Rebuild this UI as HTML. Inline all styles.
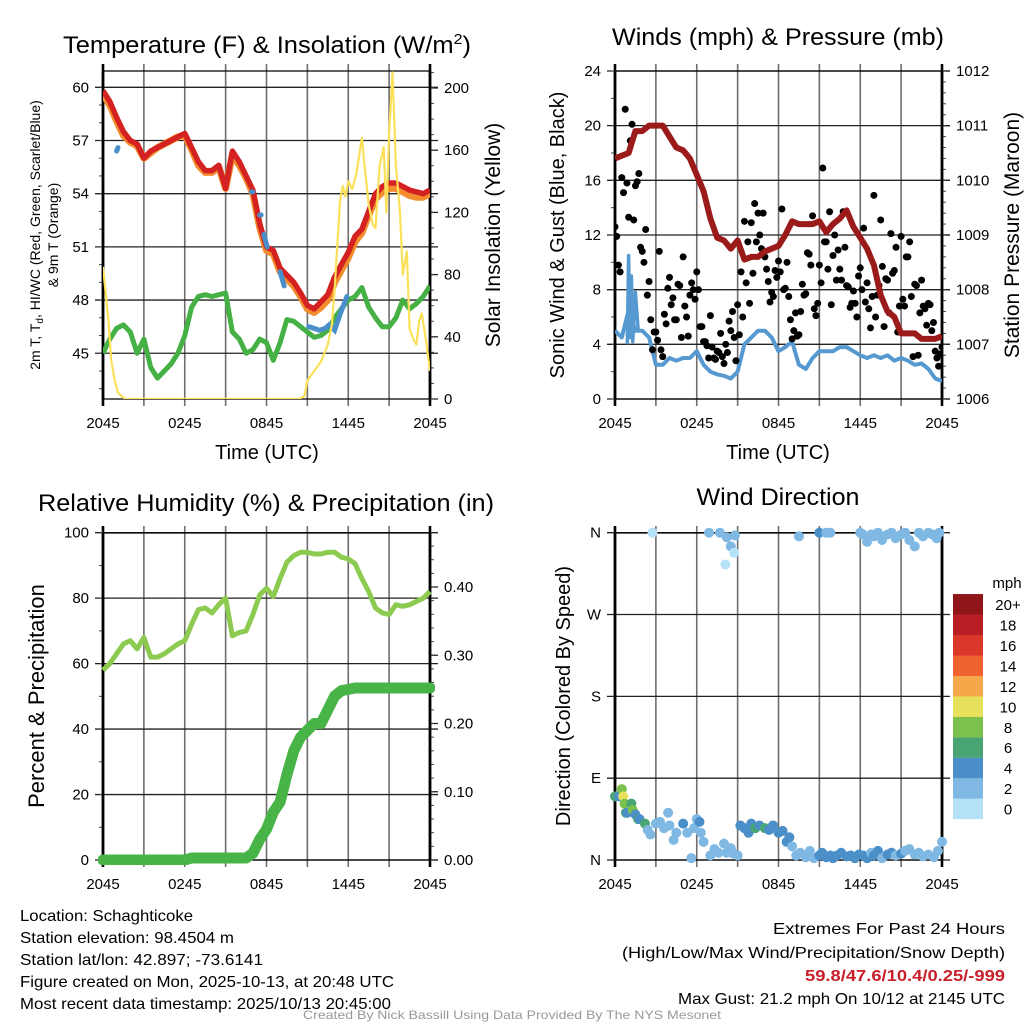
<!DOCTYPE html>
<html><head><meta charset="utf-8"><style>
html,body{margin:0;padding:0;background:#fff;}
svg{display:block;font-family:"Liberation Sans",sans-serif;}
</style></head><body>
<svg id="fig" width="1024" height="1024" viewBox="0 0 1024 1024">
<defs>
<clipPath id="c1"><rect x="103" y="71" width="327" height="328"/></clipPath>
<clipPath id="c2"><rect x="615" y="71" width="327" height="328"/></clipPath>
<clipPath id="c3"><rect x="98" y="533" width="337" height="332"/></clipPath>
<clipPath id="c4"><rect x="610" y="527" width="337" height="338"/></clipPath>
</defs>
<text x="267" y="53" font-size="24" text-anchor="middle" textLength="408" lengthAdjust="spacingAndGlyphs">Temperature (F) &amp; Insolation (W/m<tspan dy="-9" font-size="15">2</tspan><tspan dy="9">)</tspan></text>
<text x="778" y="45" font-size="24" text-anchor="middle" textLength="332" lengthAdjust="spacingAndGlyphs">Winds (mph) &amp; Pressure (mb)</text>
<text x="266" y="511" font-size="24" text-anchor="middle" textLength="456" lengthAdjust="spacingAndGlyphs">Relative Humidity (%) &amp; Precipitation (in)</text>
<text x="778" y="505" font-size="24" text-anchor="middle" textLength="163" lengthAdjust="spacingAndGlyphs">Wind Direction</text>

<g font-size="16">
<text x="20" y="921" textLength="173" lengthAdjust="spacingAndGlyphs">Location: Schaghticoke</text>
<text x="20" y="943" textLength="214" lengthAdjust="spacingAndGlyphs">Station elevation: 98.4504 m</text>
<text x="20" y="965" textLength="243" lengthAdjust="spacingAndGlyphs">Station lat/lon: 42.897; -73.6141</text>
<text x="20" y="987" textLength="374" lengthAdjust="spacingAndGlyphs">Figure created on Mon, 2025-10-13, at 20:48 UTC</text>
<text x="20" y="1009" textLength="371" lengthAdjust="spacingAndGlyphs">Most recent data timestamp: 2025/10/13 20:45:00</text>
</g>
<g font-size="16" text-anchor="end">
<text x="1005" y="934" textLength="232" lengthAdjust="spacingAndGlyphs">Extremes For Past 24 Hours</text>
<text x="1005" y="958" textLength="383" lengthAdjust="spacingAndGlyphs">(High/Low/Max Wind/Precipitation/Snow Depth)</text>
<text x="1005" y="981" fill="#c8202a" font-weight="bold" textLength="200" lengthAdjust="spacingAndGlyphs">59.8/47.6/10.4/0.25/-999</text>
<text x="1005" y="1004" textLength="327" lengthAdjust="spacingAndGlyphs">Max Gust: 21.2 mph On 10/12 at 2145 UTC</text>
</g>
<text x="512" y="1019" font-size="12" fill="#999" text-anchor="middle" textLength="418" lengthAdjust="spacingAndGlyphs">Created By Nick Bassill Using Data Provided By The NYS Mesonet</text>
</svg>
<script>
// ===== DATA =====
const xTickLabels = ["2045","0245","0845","1445","2045"];
const halfHours = [0,0.5,1,1.5,2,2.5,3,3.5,4,4.5,5,5.5,6,6.5,7,7.5,8,8.5,9,9.5,10,10.5,11,11.5,12,12.5,13,13.5,14,14.5,15,15.5,16,16.5,17,17.5,18,18.5,19,19.5,20,20.5,21,21.5,22,22.5,23,23.5,24];
const tempRed = [59.8,59.2,58.3,57.5,57.0,56.8,56.0,56.4,56.6,56.8,57.0,57.2,57.4,56.6,55.8,55.3,55.3,55.6,54.3,56.4,55.8,55.0,54.2,52.3,51.0,50.8,49.8,49.4,49.0,48.4,47.7,47.5,47.9,48.3,49.3,50.0,50.7,51.6,52.0,53.0,54.0,54.4,54.6,54.6,54.4,54.2,54.1,54.0,54.2];
const temp9mOrange = [59.6,59.0,58.1,57.3,56.9,56.7,56.0,56.3,56.6,56.8,57.0,57.2,57.3,56.5,55.6,55.2,55.2,55.5,54.3,56.2,55.6,54.9,54.0,52.1,50.8,50.6,49.6,49.2,48.8,48.2,47.5,47.3,47.6,48.0,49.0,49.7,50.4,51.3,51.8,52.8,53.7,54.1,54.3,54.3,54.1,53.9,53.8,53.8,54.0];
const dewGreen = [45.0,45.8,46.4,46.6,46.2,45.0,45.8,44.2,43.6,44.0,44.4,45.0,46.0,47.6,48.2,48.3,48.2,48.3,48.4,46.2,45.8,45.0,45.2,45.8,45.6,44.6,45.6,46.9,46.8,46.5,46.2,45.9,46.0,46.3,47.0,47.5,48.0,48.2,48.7,47.6,47.0,46.5,46.5,47.0,48.0,47.5,47.8,48.2,48.8];
const wcBlueHours = [[1.0,1.1],[10.9,11.0],[11.5,11.6],[11.8,12.05],[13.0,13.3],[15.1,15.5,15.9,16.3,16.6,17.0,17.4,17.9]];
const wcBlueVals = [[56.4,56.6],[54.1,54.1],[52.8,52.8],[51.7,51.0],[49.6,48.8],[46.5,46.4,46.3,46.4,46.6,46.3,47.2,48.2]];
const solarHours = [0,0.2,0.4,0.6,0.85,1.1,1.6,2,14,14.4,14.8,15,15.5,16,16.5,16.8,17,17.2,17.4,17.6,17.8,18,18.3,18.6,19,19.2,19.5,19.8,20,20.3,20.6,20.8,21,21.25,21.5,21.8,22,22.3,22.5,22.8,23,23.2,23.4,23.7,24];
const solarVals = [85,68,50,25,12,4,0,0,0,0,2,12,18,24,35,48,70,100,128,137,130,140,135,145,168,150,125,112,110,150,162,120,170,210,150,120,80,95,45,38,35,50,55,38,18];
const windHours = halfHours;
const windSust = [5,4.5,6.5,5,5,4.5,2.5,2.5,3,2.8,3,3,3.5,2.5,2,1.8,1.7,1.5,2,4,4.5,5,5,4.5,3.5,3.8,4.2,2.5,2.2,3,3.5,3.5,3.5,3.8,3.8,3.5,3.2,3,3.2,3,3.2,2.8,3,2.8,2.5,2.6,2.2,1.5,1.3];
const windSpikeHours = [0.9,1.0,1.1,1.2,1.3,1.5,1.7];
const windSpikeVals = [4.0,10.5,4.5,9.0,4.2,7.8,5.0];
const pressure = [1010.4,1010.45,1010.5,1010.9,1010.9,1011.0,1011.0,1011.0,1010.8,1010.6,1010.55,1010.4,1010.1,1009.8,1009.3,1008.95,1008.9,1008.75,1008.9,1008.55,1008.6,1008.6,1008.7,1008.75,1008.8,1009.0,1009.25,1009.2,1009.2,1009.2,1009.25,1009.05,1009.2,1009.3,1009.45,1009.15,1008.95,1008.75,1008.45,1007.9,1007.6,1007.5,1007.2,1007.2,1007.2,1007.1,1007.1,1007.1,1007.15];
const gustA = [12.6,9.8,16.2,21.2,13.3,20.1,15.6,16.5,10.8,12.4,8.6,3.6, 4.9,10.8,3.1,5.5,8.9,7.4,5.8,8.3,10.4,6.0,7.6,8.0, 9.3,5.3,4.2,3.9,6.1,3.0,3.5,4.8,2.6,3.4,5.0,4.5, 6.9,9.3,13.0,11.5,12.9,14.3,13.6,11.0,10.4,8.6,7.8,9.4, 10.1,13.9,8.1,7.5,4.4,6.3,4.7,8.4,7.7,10.6,13.4,6.1, 9.8,16.9,11.5,13.7,10.5,8.7,9.5,13.7,8.3,6.7,7.9,6.0, 9.6,12.5,8.5,5.2,14.9,7.6,13.1,5.3,8.7,12.1,9.4,4.9, 11.9,6.8,10.4,7.5,8.4,3.2,8.7,6.6,7.0,5.0,3.5,2.4,3.8];
const gustB = [11.9,9.3,15.1,15.8,18.9,13.1,15.9,11.1,10.0,7.6,5.8,4.9, 4.3,3.6,6.2,8.1,6.9,5.8,8.4,4.5,6.8,4.6,8.5,7.3, 8.0,5.3,4.2,3.0,3.8,2.9,3.4,3.1,4.0,5.7,6.4,2.8, 4.7,6.0,8.5,7.0,9.2,11.5,12.0,13.6,9.5,7.1,7.5,8.9, 9.3,8.0,10.0,5.8,5.0,4.6,6.4,7.6,10.7,9.8,6.6,7.0, 8.5,11.5,9.5,6.9,12.0,10.9,8.7,11.1,8.2,7.0,7.0,9.0, 8.0,7.1,6.6,7.5,6.0,8.3,9.7,8.8,6.3,9.2,11.1,6.8, 7.3,10.4,11.5,3.1,8.3,6.3,6.8,5.4,6.9,5.6,3.0,3.3];
const rh = [58,60,63,66,67,64.5,68,62,62,63,64.5,66,67,72,76.5,77,75.5,78,80,68.5,69.5,70,75,81,83,80.5,86,91,93,94,94,93.5,93.5,94,94,92.5,92,90.5,86,82,77,75.5,75,78,77.5,78,79,80,82];
const precip = [0,0,0,0,0,0,0,0,0,0,0,0,0,0.003,0.003,0.003,0.003,0.003,0.003,0.003,0.003,0.003,0.01,0.03,0.045,0.07,0.085,0.125,0.16,0.18,0.19,0.2,0.2,0.22,0.24,0.248,0.25,0.252,0.252,0.252,0.252,0.252,0.252,0.252,0.252,0.252,0.252,0.252,0.252];
const dirHours = [0,0.3,0.5,0.6,0.7,0.8,0.9,1.2,1.3,1.5,1.7,1.8,2.2,2.4,2.6,3,3.3,3.6,3.9,4,4.3,4.5,5,5.3,5.6,5.8,6,6.2,6.3,6.5,7,7.3,7.6,8,8.2,8.5,8.7,9,2.75,6.9,7.7,8.2,8.1,8.5,8.8,8.75,9.2,9.5,9.8,10,10.3,10.6,11,11.3,11.6,12,12.3,12.6,12.8,13,13.3,13.6,14,14.3,14.6,15,15.2,15.5,15.8,16,16.3,16.6,17,17.3,17.6,17.9,18.2,18.5,18.8,19,19.3,19.6,20,20.3,20.6,21,21.3,21.6,22,22.3,22.6,23,23.4,23.7,24,13.5,15,15.5,15.8,18,18.2,18.5,18.8,19,19.3,19.6,20,20.3,20.6,21,21.3,21.6,22,22.3,22.6,23,23.3,23.6,23.8];
const dirDeg = [70,70,78,70,62,52,52,62,55,50,45,45,40,33,28,40,42,35,52,38,22,30,40,30,2,35,45,42,30,20,5,12,8,18,8,13,7,5,360,360,360,355,325,345,357,338,38,35,30,40,35,38,35,33,38,30,32,20,25,15,5,8,3,10,2,5,8,3,5,2,5,8,4,5,2,6,5,2,8,5,10,2,6,8,5,7,10,12,6,8,4,6,3,10,20,356,360,360,360,360,358,350,358,356,360,352,358,360,354,358,360,352,345,360,356,360,358,354,360];
const dirSpeed = [6,4,8,10,8,6,4,6,8,4,6,4,6,2,2,2,2,2,2,2,2,2,4,2,2,2,2,4,2,2,2,2,2,2,2,2,2,2,0,2,2,2,0,2,2,0,4,4,4,4,6,4,6,4,4,4,4,4,4,2,2,2,2,2,2,4,4,4,4,4,4,4,4,4,4,4,4,4,2,4,4,2,4,4,2,4,2,2,2,2,2,2,2,2,2,2,4,2,2,2,2,2,2,2,2,2,2,2,2,2,2,2,2,2,2,2,2,2,2];
const cbarLabels = ["0","2","4","6","8","10","12","14","16","18","20+"];
const cbarColors = ["#b5e2f8","#7fb9e3","#4a8fc7","#4aa574","#7bc14b","#e6e05a","#f6a74a","#ef6330","#dc372b","#ba1e25","#901518"];

// ===== HELPERS =====
const NS="http://www.w3.org/2000/svg";
const svg=document.getElementById('fig');
function mk(tag,attrs,parent){const e=document.createElementNS(NS,tag);for(const k in attrs)e.setAttribute(k,attrs[k]);(parent||svg).appendChild(e);return e;}
function linePath(xs,ys,fx,fy){let d="";for(let i=0;i<xs.length;i++){d+=(i?"L":"M")+fx(xs[i]).toFixed(1)+","+fy(ys[i]).toFixed(1);}return d;}

function frame(x0,x1,y0,y1,hGrid,fy,minorL,fyMinor,rightMajor,fyR,rightMinor,leftLabels,rightLabels,name){
  const g=mk('g',{});
  
  
  for(let h=0;h<=24;h+=3){
    const x=x0+h/24*(x1-x0);
    const l=mk('line',{x1:x,x2:x,y1:y0-7,y2:y1+7,stroke:(h%24==0)?'#000':'#6e6e6e','stroke-width':(h%24==0)?2.6:1.6},g);
    
    
  }
  hGrid.forEach(v=>{const y=fy(v);
    const l=mk('line',{x1:x0-8,x2:x1+8,y1:y,y2:y,stroke:'#222','stroke-width':1.3},g);
    
    });
  mk('line',{x1:x0,x2:x1,y1:y0,y2:y0,stroke:'#000','stroke-width':1.3},g);
  mk('line',{x1:x0,x2:x1,y1:y1,y2:y1,stroke:'#000','stroke-width':1.3},g);
  minorL.forEach(v=>{const y=fyMinor(v);mk('line',{x1:x0-4,x2:x0,y1:y,y2:y,stroke:'#444','stroke-width':1},g);});
  rightMajor.forEach(v=>{const y=fyR(v);mk('line',{x1:x1,x2:x1+8,y1:y,y2:y,stroke:'#222','stroke-width':1.3},g);});
  rightMinor.forEach(v=>{const y=fyR(v);mk('line',{x1:x1,x2:x1+4,y1:y,y2:y,stroke:'#444','stroke-width':1},g);});
  xTickLabels.forEach((t,i)=>{const x=x0+i*6/24*(x1-x0);
    const tx=mk('text',{x:x,y:y1+29,'font-size':15,'text-anchor':'middle'},g);tx.textContent=t;
    
    });
  leftLabels.forEach(([v,t])=>{const tx=mk('text',{x:x0-14,y:fy(v)+5,'font-size':15,'text-anchor':'end'},g);tx.textContent=t;
    
    });
  rightLabels.forEach(([v,t])=>{const tx=mk('text',{x:x1+14,y:fyR(v)+5,'font-size':15},g);tx.textContent=t;
    
    });
  mk('line',{x1:x0,x2:x0,y1:y0,y2:y1,stroke:'#000','stroke-width':2.6},g);
  mk('line',{x1:x1,x2:x1,y1:y0,y2:y1,stroke:'#000','stroke-width':2.6},g);
}
function rng(a,b,s){const r=[];for(let v=a;v<=b+1e-9;v+=s)r.push(+v.toFixed(4));return r;}
function label(x,y,t,size,rot,name){const tx=mk('text',{x:x,y:y,'font-size':size,'text-anchor':'middle',transform:rot?`rotate(-90 ${x} ${y})`:''});tx.textContent=t;
  
  return tx;}

// ===== PANEL 1: Temperature =====
const x1s=h=>103+h/24*327;
const yT=v=>87.3+(60-v)*17.73;
const yS=w=>399-w*1.555;
frame(103,430,71,399,[60,57,54,51,48,45],yT,rng(43,60,1),yT,[0,40,80,120,160,200],yS,rng(0,210,10),
 [[60,'60'],[57,'57'],[54,'54'],[51,'51'],[48,'48'],[45,'45']],[[0,'0'],[40,'40'],[80,'80'],[120,'120'],[160,'160'],[200,'200']],'temp');
const g1=mk('g',{'clip-path':'url(#c1)'});


let p=mk('path',{d:linePath(halfHours,temp9mOrange,x1s,yT),fill:'none',stroke:'#f28c2c','stroke-width':7,'stroke-linejoin':'round'},g1);


p=mk('path',{d:linePath(halfHours,tempRed,x1s,yT),fill:'none',stroke:'#d42222','stroke-width':5.5,'stroke-linejoin':'round'},g1);


p=mk('path',{d:linePath(halfHours,dewGreen,x1s,yT),fill:'none',stroke:'#45b043','stroke-width':5,'stroke-linejoin':'round'},g1);


wcBlueHours.forEach((hs,i)=>{const s=mk('path',{d:linePath(hs,wcBlueVals[i],x1s,yT),fill:'none',stroke:'#4a8fca','stroke-width':5,'stroke-linecap':'round'},g1);
  
  });
p=mk('path',{d:linePath(solarHours,solarVals,x1s,yS),fill:'none',stroke:'#fbe05a','stroke-width':2.2,'stroke-linejoin':'round'},g1);


label(267,459,'Time (UTC)',20,false,'temp-x-axis-title');
label(40,235,'2m T, T',14,true,'temp-y-axis-title').innerHTML='2m T, T<tspan font-size="10" dy="3">d</tspan><tspan dy="-3">, HI/WC (Red, Green, Scarlet/Blue)</tspan>';
label(58,235,'& 9m T (Orange)',14,true,'temp-y-axis-title-2');
label(500,235,'Solar Insolation (Yellow)',21,true,'solar-y-axis-title');

// ===== PANEL 2: Winds =====
const x2s=h=>615+h/24*327;
const yW=v=>399-v*13.667;
const yP=v=>399-(v-1006)*54.67;
frame(615,942,71,399,[0,4,8,12,16,20,24],yW,rng(0,24,2),yW,[1006,1007,1008,1009,1010,1011,1012],yP,rng(1006,1012,0.2),
 [[0,'0'],[4,'4'],[8,'8'],[12,'12'],[16,'16'],[20,'20'],[24,'24']],[[1006,'1006'],[1007,'1007'],[1008,'1008'],[1009,'1009'],[1010,'1010'],[1011,'1011'],[1012,'1012']],'wind');
const g2=mk('g',{'clip-path':'url(#c2)'});


p=mk('path',{d:linePath(windHours,windSust,x2s,yW),fill:'none',stroke:'#5599d0','stroke-width':4,'stroke-linejoin':'round'},g2);


p=mk('path',{d:linePath(windSpikeHours,windSpikeVals,x2s,yW),fill:'none',stroke:'#5599d0','stroke-width':3.5,'stroke-linejoin':'round'},g2);


gustA.forEach((v,i)=>{const c=mk('circle',{cx:x2s(i/4),cy:yW(v),r:3.5,fill:'#000'},g2);
  
  });
gustB.forEach((v,i)=>{const c=mk('circle',{cx:x2s(i/4+0.125),cy:yW(v),r:3.5,fill:'#000'},g2);
  
  });
p=mk('path',{d:linePath(halfHours,pressure,x2s,yP),fill:'none',stroke:'#9b1b1b','stroke-width':6,'stroke-linejoin':'round'},g2);


label(778,459,'Time (UTC)',20,false,'wind-x-axis-title');
label(564,235,'Sonic Wind & Gust (Blue, Black)',20,true,'wind-y-axis-title');
label(1019,235,'Station Pressure (Maroon)',21,true,'pressure-y-axis-title');

// ===== PANEL 3: RH & Precip =====
const x3s=h=>103+h/24*327;
const yR=v=>860-v*3.273;
const yPr=v=>860-v*682.5;
frame(103,430,533,860,[0,20,40,60,80,100],yR,rng(0,100,10),yR,[0,0.1,0.2,0.3,0.4],yPr,rng(0,0.47,0.02),
 [[0,'0'],[20,'20'],[40,'40'],[60,'60'],[80,'80'],[100,'100']],[[0,'0.00'],[0.1,'0.10'],[0.2,'0.20'],[0.3,'0.30'],[0.4,'0.40']],'rh');
const g3=mk('g',{'clip-path':'url(#c3)'});


p=mk('path',{d:linePath(halfHours,rh,x3s,yR),fill:'none',stroke:'#8ccb50','stroke-width':5,'stroke-linejoin':'round'},g3);


p=mk('path',{d:linePath(halfHours,precip,x3s,yPr),fill:'none',stroke:'#48b448','stroke-width':11,'stroke-linejoin':'round','stroke-linecap':'round'},g3);


label(44,696,'Percent & Precipitation',22,true,'rh-y-axis-title');

// ===== PANEL 4: Wind direction =====
const x4s=h=>615+h/24*327;
const yD=d=>860-d/360*327.3;
frame(615,942,533,860,[0,90,180,270,360],yD,[],yD,[],yD,[],
 [[0,'N'],[90,'E'],[180,'S'],[270,'W'],[360,'N']],[],'wdir');
const g4=mk('g',{'clip-path':'url(#c4)'});


dirHours.forEach((h,i)=>{const bin=Math.min(10,Math.floor(dirSpeed[i]/2));
  const c=mk('circle',{cx:x4s(h),cy:yD(dirDeg[i]),r:5,fill:cbarColors[bin]},g4);
  
  });
label(570,696,'Direction (Colored By Speed)',20,true,'wdir-y-axis-title');
const cb=mk('g',{});


cbarColors.forEach((c,i)=>{const y=819-(i+1)*20.45;
  const r=mk('rect',{x:953,y:y,width:30,height:20.6,fill:c},cb);
  
  
  const t=mk('text',{x:1008,y:y+16,'font-size':15,'text-anchor':'middle'},cb);t.textContent=cbarLabels[i];
  
  });
const mph=mk('text',{x:1007,y:588,'font-size':15,'text-anchor':'middle'},cb);mph.textContent='mph';


</script>
</body></html>
